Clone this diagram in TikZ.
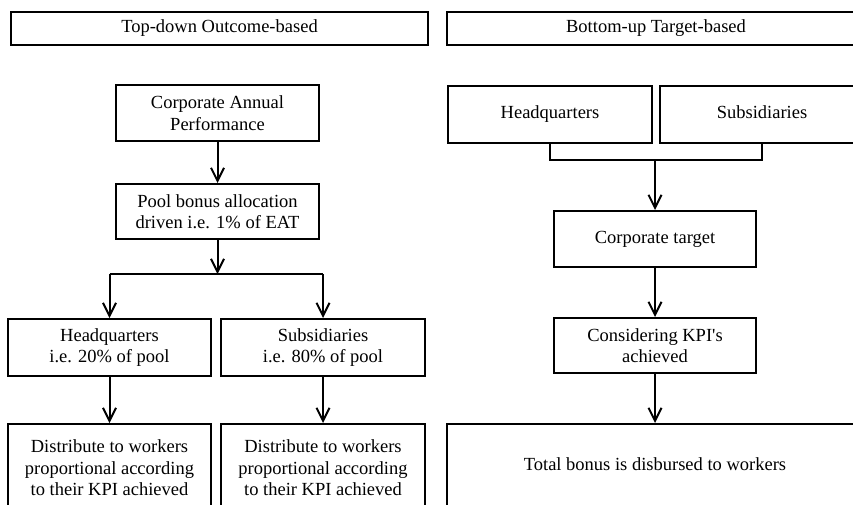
\documentclass[tikz,border=0pt]{standalone}
\usepackage{fontspec}
\setmainfont{Liberation Serif}
\usetikzlibrary{arrows.meta}
\begin{document}
\begin{tikzpicture}[x=1pt,y=-1pt,
  box/.style={draw=black, line width=2pt, rectangle, align=center, inner sep=0pt,
    font=\fontsize{18.5}{21.5}\selectfont},
  one/.style={text height=13pt, text depth=4.5pt},
  conn/.style={line width=2pt, draw=black},
  arr/.style={conn, -{Straight Barb[length=13pt,width=13pt,line width=2pt]}}]
\useasboundingbox (0,0) rectangle (853,504);
\clip (0,0) rectangle (853,504);
\fill[white] (0,0) rectangle (853,504);
% left column
\node[box, one, minimum width=417pt, minimum height=33pt] (t1) at (219.5,28.5) {Top-down Outcome-based};
\node[box, minimum width=203pt, minimum height=56pt] (cap) at (217.5,113) {Corporate Annual\\Performance};
\node[box, minimum width=203pt, minimum height=55pt] (pool) at (217.5,211.5) {Pool bonus allocation\\driven i.e. 1\% of EAT};
\node[box, minimum width=203pt, minimum height=57pt] (hq1) at (109.5,347.5) {Headquarters\\i.e. 20\% of pool};
\node[box, minimum width=204pt, minimum height=57pt] (sub1) at (323,347.5) {Subsidiaries\\i.e. 80\% of pool};
\node[box, minimum width=203pt, minimum height=88pt] (d1) at (109.5,468) {Distribute to workers\\proportional according\\to their KPI achieved};
\node[box, minimum width=204pt, minimum height=88pt] (d2) at (323,468) {Distribute to workers\\proportional according\\to their KPI achieved};
\coordinate (split) at (217.5,274);
\coordinate (splitL) at (109.5,274);
\coordinate (splitR) at (323,274);
\draw[arr] (cap) -- (pool);
\draw[arr] (pool) -- (split);
\draw[conn] (splitL) -- (splitR);
\draw[arr] (splitL) -- (hq1);
\draw[arr] (splitR) -- (sub1);
\draw[arr] (hq1) -- (d1);
\draw[arr] (sub1) -- (d2);
% right column
\node[box, one, minimum width=418pt, minimum height=33pt] (t2) at (656,28.5) {Bottom-up Target-based};
\node[box, one, minimum width=204pt, minimum height=57pt] (hq2) at (550,114.5) {Headquarters};
\node[box, one, minimum width=204pt, minimum height=57pt] (sub2) at (762,114.5) {Subsidiaries};
\node[box, one, minimum width=202pt, minimum height=56pt] (ct) at (655,239) {Corporate target};
\node[box, minimum width=202pt, minimum height=55pt] (kpi) at (655,345.5) {Considering KPI\textquotesingle s\\achieved};
\node[box, one, minimum width=416pt, minimum height=84pt] (tot) at (655,466) {Total bonus is disbursed to workers};
\coordinate (join) at (655,160);
\draw[conn] (hq2.south) -- (hq2.south |- join) -- (sub2.south |- join) -- (sub2.south);
\draw[arr] (join) -- (ct);
\draw[arr] (ct) -- (kpi);
\draw[arr] (kpi) -- (tot);
\end{tikzpicture}
\end{document}
